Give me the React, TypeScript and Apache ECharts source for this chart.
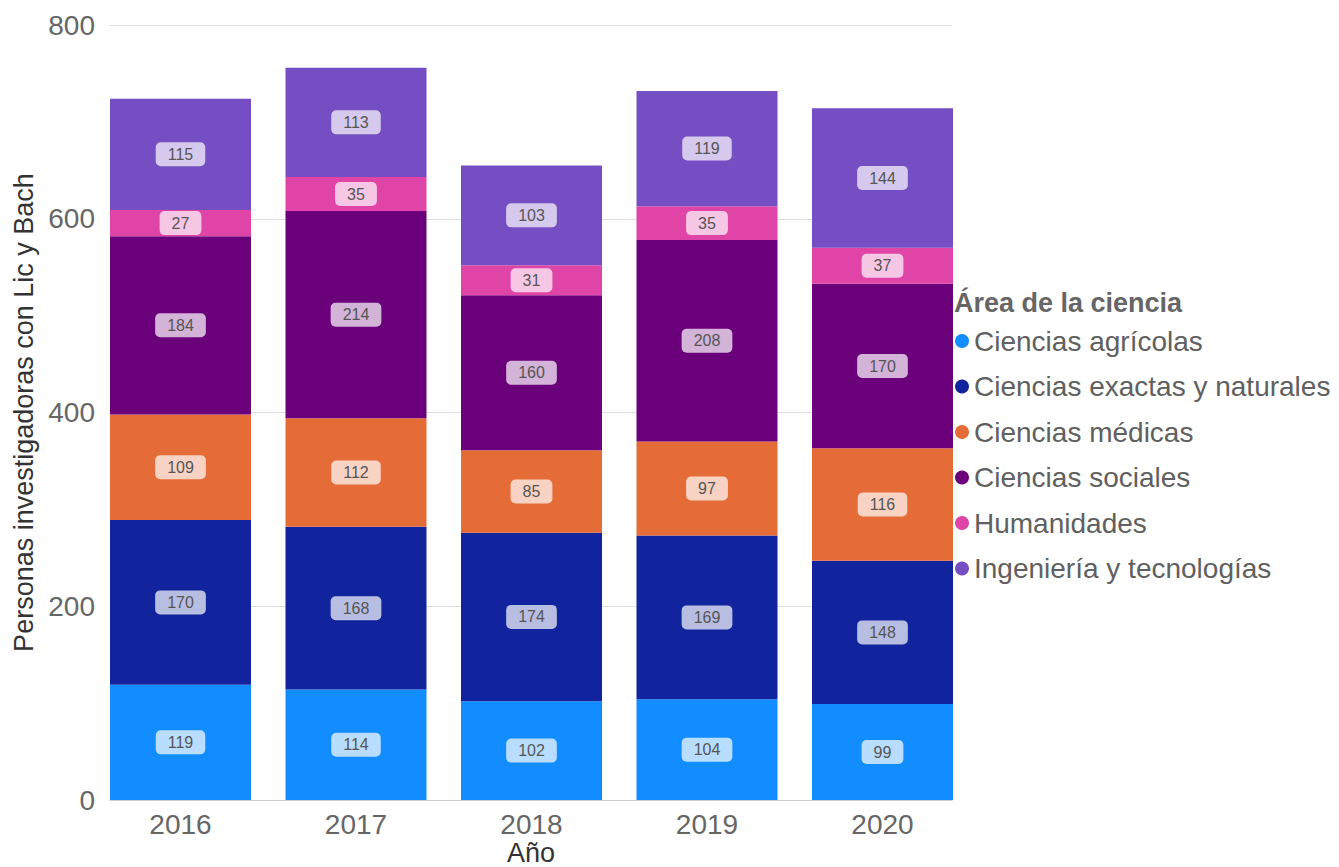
import React, { useEffect, useRef } from "react";
import * as echarts from "echarts";

const years = ["2016", "2017", "2018", "2019", "2020"];
const seriesNames = [
  "Ciencias agrícolas",
  "Ciencias exactas y naturales",
  "Ciencias médicas",
  "Ciencias sociales",
  "Humanidades",
  "Ingeniería y tecnologías",
];
const agricolas = [119, 114, 102, 104, 99];
const exactas = [170, 168, 174, 169, 148];
const medicas = [109, 112, 85, 97, 116];
const sociales = [184, 214, 160, 208, 170];
const humanidades = [27, 35, 31, 35, 37];
const ingenieria = [115, 113, 103, 119, 144];
const colors = ["#118DFF", "#12239E", "#E66C37", "#6B007B", "#E044A7", "#744EC2"];
const yTicks = [0, 200, 400, 600, 800];

const FONT = "'Liberation Sans', Arial, sans-serif";

export default function App() {
  const ref = useRef<HTMLDivElement>(null);
  useEffect(() => {
    if (!ref.current) return;
    const chart = echarts.init(ref.current, null, { renderer: "svg" });
    const data = [agricolas, exactas, medicas, sociales, humanidades, ingenieria];
    const top = 25;
    const height = 775;
    chart.setOption({
      animation: false,
      textStyle: { fontFamily: FONT },
      title: {
        text: "Área de la ciencia",
        left: 954,
        top: 288,
        textStyle: { fontFamily: FONT, fontSize: 27, fontWeight: "bold", color: "#666666", lineHeight: 30 },
        padding: 0,
      },
      legend: {
        orient: "vertical",
        left: 955,
        top: 325,
        icon: "circle",
        itemWidth: 14,
        itemHeight: 14,
        itemGap: 13.5,
        padding: 0,
        data: seriesNames,
        textStyle: { fontFamily: FONT, fontSize: 28, color: "#606060", lineHeight: 32 },
      },
      grid: [
        { left: 92.75, width: 877.5, top, height, outerBoundsMode: "none", containLabel: false },
        { left: 110, width: 842, top, height, outerBoundsMode: "none", containLabel: false },
      ],
      xAxis: [
        {
          type: "category",
          gridIndex: 0,
          data: years,
          axisLine: { show: false },
          axisTick: { show: false },
          axisLabel: { fontSize: 28, color: "#666666", margin: 12, lineHeight: 24, fontFamily: FONT },
        },
        {
          type: "category",
          gridIndex: 1,
          data: years,
          axisLine: { show: true, lineStyle: { color: "#cccccc", width: 1 } },
          axisTick: { show: false },
          axisLabel: { show: false },
          name: "Año",
          nameLocation: "middle",
          nameGap: 41,
          nameTextStyle: { fontSize: 27, color: "#333333", lineHeight: 24, fontFamily: FONT },
        },
      ],
      yAxis: [
        {
          type: "value",
          gridIndex: 0,
          min: 0,
          max: 800,
          interval: 200,
          show: false,
          splitLine: { show: false },
        },
        {
          type: "value",
          gridIndex: 1,
          min: yTicks[0],
          max: yTicks[yTicks.length - 1],
          interval: 200,
          axisLabel: { fontSize: 28, color: "#666666", margin: 15, fontFamily: FONT },
          splitLine: { lineStyle: { color: "#dddddd", width: 1 } },
          axisLine: { show: false },
          axisTick: { show: false },
          name: "Personas investigadoras con Lic y Bach",
          nameLocation: "middle",
          nameGap: 72,
          nameTextStyle: { fontSize: 27, color: "#333333", fontFamily: FONT },
        },
      ],
      series: seriesNames.map((name, i) => ({
        name,
        type: "bar",
        stack: "total",
        xAxisIndex: 0,
        yAxisIndex: 0,
        barWidth: 141,
        data: data[i],
        itemStyle: { color: colors[i] },
        label: {
          show: true,
          position: "inside",
          fontSize: 16,
          color: "#555555",
          fontFamily: FONT,
          backgroundColor: "rgba(255,255,255,0.7)",
          borderRadius: 5,
          padding: [4, 12],
        },
      })),
    });
    return () => chart.dispose();
  }, []);
  return <div ref={ref} style={{ width: 1339, height: 867, position: "absolute", left: 0, top: 0 }} />;
}
